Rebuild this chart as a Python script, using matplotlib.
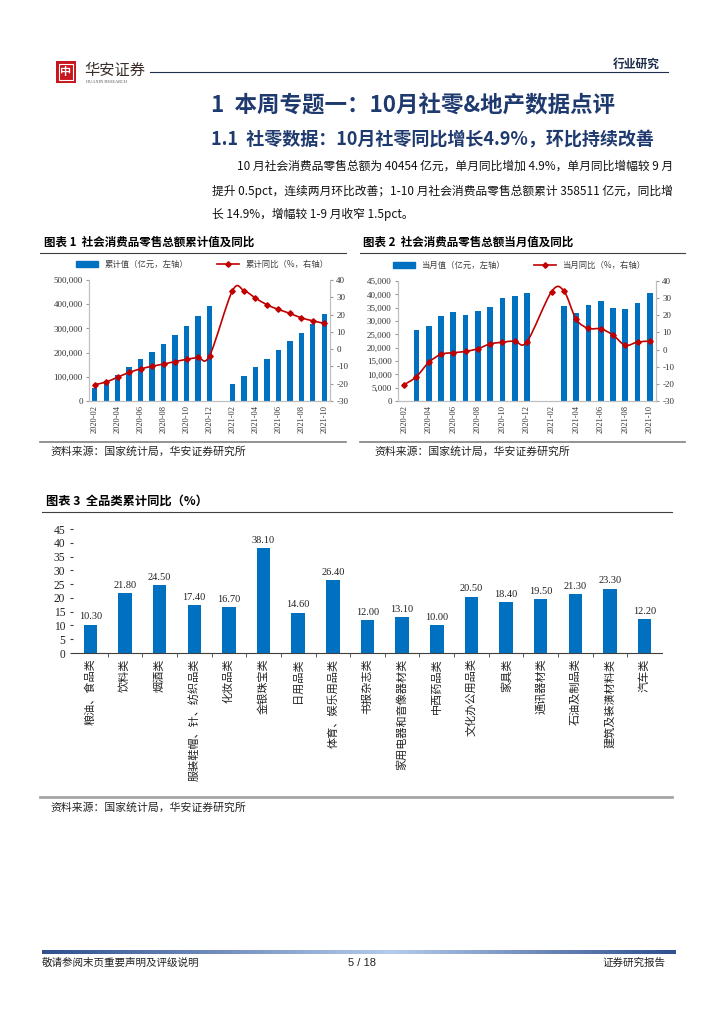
import numpy as np
import matplotlib
matplotlib.use("Agg")
import matplotlib.pyplot as plt
from matplotlib.path import Path
from matplotlib.patches import PathPatch, Rectangle
from matplotlib.lines import Line2D
from matplotlib.colors import LinearSegmentedColormap

plt.rcParams['font.family'] = ['Noto Sans CJK SC', 'DejaVu Sans']

# ── Data ───────────────────────────────────────────────────────────────────────
nan = np.nan
months = ['2020-02', '2020-03', '2020-04', '2020-05', '2020-06', '2020-07', '2020-08',
          '2020-09', '2020-10', '2020-11', '2020-12', '2021-01', '2021-02', '2021-03',
          '2021-04', '2021-05', '2021-06', '2021-07', '2021-08', '2021-09', '2021-10']
cum_value = [52130, 78580, 106758, 138730, 172256, 204459, 235863, 273324, 311109, 350883,
             391981, nan, 69737, 105221, 138885, 174739, 211904, 246888, 281135, 318057, 358511]
cum_yoy = [-20.5, -19.0, -16.2, -13.5, -11.4, -9.9, -8.6, -7.2, -5.9, -4.8, -3.9, nan,
           33.8, 33.9, 29.6, 25.7, 23.0, 20.7, 18.1, 16.4, 14.9]
mon_value = [nan, 26450, 28178, 31973, 33526, 32203, 33571, 35295, 38576, 39514, 40566, nan,
             nan, 35484, 33153, 35945, 37586, 34925, 34395, 36833, 40454]
mon_yoy = [-20.5, -15.8, -7.5, -2.8, -1.8, -1.1, 0.5, 3.3, 4.3, 5.0, 4.6, nan,
           33.8, 34.2, 17.7, 12.4, 12.1, 8.5, 2.5, 4.4, 4.9]

categories = ['粮油、食品类', '饮料类', '烟酒类', '服装鞋帽、针、纺织品类', '化妆品类', '金银珠宝类',
              '日用品类', '体育、娱乐用品类', '书报杂志类', '家用电器和音像器材类', '中西药品类',
              '文化办公用品类', '家具类', '通讯器材类', '石油及制品类', '建筑及装潢材料类', '汽车类']
cat_yoy = [10.3, 21.8, 24.5, 17.4, 16.7, 38.1, 14.6, 26.4, 12.0, 13.1, 10.0, 20.5, 18.4,
           19.5, 21.3, 23.3, 12.2]

paragraph = ['10 月社会消费品零售总额为 40454 亿元，单月同比增加 4.9%，单月同比增幅较 9 月',
             '提升 0.5pct，连续两月环比改善；1-10 月社会消费品零售总额累计 358511 亿元，同比增',
             '长 14.9%，增幅较 1-9 月收窄 1.5pct。']

BLUE = '#0070C0'
RED = '#C00000'
NAVY = '#1F3A6E'
SERIF = 'Liberation Serif'
W, H = 724, 1024

fig = plt.figure(figsize=(W / 100, H / 100), dpi=100)


def add_ax(l, t, r, b):
    return fig.add_axes([l / W, 1 - b / H, (r - l) / W, (b - t) / H])


def ftext(x, y, s, **kw):
    kw.setdefault('va', 'center')
    return fig.text(x / W, 1 - y / H, s, **kw)


def hline(x0, x1, y, **kw):
    fig.add_artist(Line2D([x0 / W, x1 / W], [1 - y / H, 1 - y / H], transform=fig.transFigure, **kw))


def smooth_path(xs, ys):
    # Excel-style smoothed line: cubic Bezier through the data points
    pts = [np.array([x, y]) for x, y in zip(xs, ys) if not np.isnan(y)]
    verts, codes = [tuple(pts[0])], [Path.MOVETO]
    for i in range(len(pts) - 1):
        p0 = pts[i - 1] if i > 0 else pts[i]
        p1, p2 = pts[i], pts[i + 1]
        p3 = pts[i + 2] if i + 2 < len(pts) else p2
        verts += [tuple(p1 + (p2 - p0) / 6), tuple(p2 - (p3 - p1) / 6), tuple(p2)]
        codes += [Path.CURVE4] * 3
    return Path(verts, codes)


# ── Header ─────────────────────────────────────────────────────────────────────
fig.add_artist(Rectangle((56 / W, 1 - 83 / H), 20 / W, 22 / H, transform=fig.transFigure,
                         facecolor='#C8161D', edgecolor='none'))
fig.add_artist(Rectangle((59 / W, 1 - 80 / H), 14 / W, 16 / H, transform=fig.transFigure,
                         facecolor='none', edgecolor='white', lw=0.8))
ftext(66, 72, '中', ha='center', fontsize=8, color='white', fontweight='bold')
ftext(84, 70, '华安证券', fontsize=11, color='#3A2E2A')
ftext(86, 82, 'HUAXIN RESEARCH', fontsize=3.2, color='#555555', family=SERIF)
hline(150, 668, 72, color='#1F2D4D', lw=0.8)
ftext(660, 64, '行业研究', ha='right', fontsize=8.5, fontweight='bold', color='#1F2D4D')

# ── Titles and paragraph ───────────────────────────────────────────────────────
ftext(211, 105, '1  本周专题一：10月社零&地产数据点评', fontsize=16.2, fontweight='bold', color=NAVY)
ftext(211, 140, '1.1  社零数据：10月社零同比增长4.9%，环比持续改善', fontsize=13,
      fontweight='bold', color=NAVY)
ftext(237, 166, paragraph[0], fontsize=8.5, color='#111111')
ftext(212, 191, paragraph[1], fontsize=8.5, color='#111111')
ftext(212, 214, paragraph[2], fontsize=8.5, color='#111111')

# ── Chart titles / frame lines ─────────────────────────────────────────────────
ftext(44, 242, '图表 1  社会消费品零售总额累计值及同比', fontsize=8.3, fontweight='bold')
ftext(363, 242, '图表 2  社会消费品零售总额当月值及同比', fontsize=8.3, fontweight='bold')
hline(40, 346, 253, color='#404040', lw=0.8)
hline(360, 685, 253, color='#404040', lw=0.8)
hline(40, 346, 442, color='#808080', lw=1.2)
hline(360, 685, 442, color='#808080', lw=1.2)
ftext(50, 452, '资料来源：国家统计局，华安证券研究所', fontsize=7.8, color='#222222')
ftext(374, 452, '资料来源：国家统计局，华安证券研究所', fontsize=7.8, color='#222222')


def combo_chart(ax, values, yoy, ymax, ystep, lab_bar, lab_line, leg_x):
    x = np.arange(len(months))
    ax.bar(x, values, width=0.47, color=BLUE, zorder=2)
    ax.set_xlim(-0.5, len(months) - 0.5)
    ax.set_ylim(0, ymax)
    ax.set_yticks(np.arange(0, ymax + 1, ystep))
    ax.set_yticklabels([f'{v:,.0f}' for v in np.arange(0, ymax + 1, ystep)],
                       fontsize=6.5, family=SERIF, color='#333333')
    ax.set_xticks(x[::2])
    ax.set_xticklabels(months[::2], rotation=90, fontsize=6, family=SERIF, color='#333333')
    ax.tick_params(axis='x', length=0, pad=3)
    ax.tick_params(axis='y', length=2.5, color='#999999', pad=2)
    ax.spines['top'].set_visible(False)
    for s in ['left', 'bottom', 'right']:
        ax.spines[s].set_color('#BFBFBF')
        ax.spines[s].set_linewidth(0.8)
    ax2 = ax.twinx()
    ax2.set_ylim(-30, 40)
    ax2.set_yticks(np.arange(-30, 41, 10))
    ax2.set_yticklabels([str(v) for v in range(-30, 41, 10)], fontsize=6.5, family=SERIF,
                        color='#333333')
    ax2.tick_params(axis='y', length=2.5, color='#999999', pad=2)
    ax2.spines['top'].set_visible(False)
    for s in ['left', 'bottom', 'right']:
        ax2.spines[s].set_color('#BFBFBF')
        ax2.spines[s].set_linewidth(0.8)
    ax2.add_patch(PathPatch(smooth_path(x, np.array(yoy)), facecolor='none', edgecolor=RED,
                            lw=1.2, zorder=3))
    ax2.plot(x, yoy, linestyle='none', marker='D', ms=2.8, color=RED, zorder=4)
    handles = [Rectangle((0, 0), 1, 1, color=BLUE),
               Line2D([], [], color=RED, lw=1.2, marker='D', ms=2.8)]
    ax.legend(handles, [lab_bar, lab_line], ncol=2, frameon=False, loc='lower center',
              bbox_to_anchor=(leg_x, 1.03), fontsize=6, handlelength=2.6, handleheight=0.6,
              columnspacing=3.5, labelcolor='#404040')


ax1 = add_ax(89, 280, 330, 401)
combo_chart(ax1, cum_value, cum_yoy, 500000, 100000, '累计值（亿元，左轴）', '累计同比（%，右轴）', 0.47)
ax2 = add_ax(398, 281, 656, 401)
combo_chart(ax2, mon_value, mon_yoy, 45000, 5000, '当月值（亿元，左轴）', '当月同比（%，右轴）', 0.47)

# ── Chart 3 ────────────────────────────────────────────────────────────────────
ftext(46, 501, '图表 3  全品类累计同比（%）', fontsize=8.8, fontweight='bold')
hline(42, 672, 512, color='#404040', lw=0.8)
hline(40, 672, 797, color='#A6A6A6', lw=2)
ftext(50, 808, '资料来源：国家统计局，华安证券研究所', fontsize=7.8, color='#222222')

ax3 = add_ax(73, 529, 662, 653)
xc = np.arange(len(categories))
ax3.bar(xc, cat_yoy, width=0.39, color=BLUE, zorder=2)
for xi, v in zip(xc, cat_yoy):
    ax3.text(xi, v + 1.2, f'{v:.2f}', ha='center', va='bottom', fontsize=7.5, family=SERIF,
             color='#222222')
ax3.set_xlim(-0.5, len(categories) - 0.5)
ax3.set_ylim(0, 45)
ax3.set_yticks(np.arange(0, 46, 5))
ax3.set_yticklabels([str(v) for v in range(0, 46, 5)], fontsize=8.3, family=SERIF, color='#222222')
ax3.set_xticks(xc)
ax3.set_xticklabels(categories, rotation=90, fontsize=8, color='#222222', va='top')
ax3.set_xticks(np.arange(0.5, len(categories) - 0.5, 1), minor=True)
ax3.tick_params(axis='x', which='major', length=0, pad=4)
ax3.tick_params(axis='x', which='minor', length=3, color='#404040', direction='out')
ax3.tick_params(axis='y', length=2.5, color='#404040', pad=3)
for s in ['top', 'right', 'left']:
    ax3.spines[s].set_visible(False)
ax3.spines['bottom'].set_color('#404040')
ax3.spines['bottom'].set_linewidth(0.8)

# ── Footer ─────────────────────────────────────────────────────────────────────
axf = add_ax(42, 950, 676, 954)
cmap = LinearSegmentedColormap.from_list('ft', [(0, '#2F4F8F'), (0.55, '#B4CBEA'), (1, '#2F4F8F')])
axf.imshow(np.linspace(0, 1, 256)[None, :], aspect='auto', cmap=cmap, extent=(0, 1, 0, 1))
axf.set_axis_off()
ftext(42, 963, '敬请参阅末页重要声明及评级说明', fontsize=7.6, color='#222222')
ftext(362, 963, '5 / 18', ha='center', fontsize=8, family='Liberation Sans', color='#222222')
ftext(665, 963, '证券研究报告', ha='right', fontsize=7.6, color='#222222')

plt.savefig('out.png', dpi=100)
